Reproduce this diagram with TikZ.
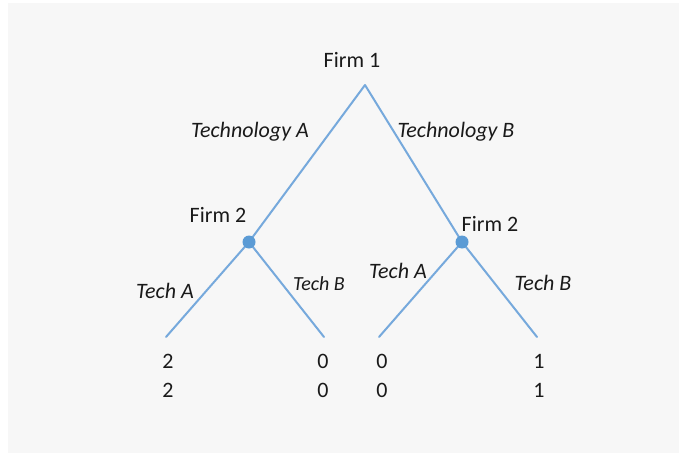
\documentclass[tikz,border=0pt]{standalone}
\usepackage{fontspec}
\setmainfont{Carlito}
\definecolor{panel}{HTML}{F7F7F7}
\definecolor{branchblue}{HTML}{76A9DC}
\definecolor{dotblue}{HTML}{5B9BD5}
\definecolor{ink}{HTML}{1A1A1A}
\pgfdeclarelayer{bg}
\pgfsetlayers{bg,main}
\begin{document}
\begin{tikzpicture}[x=1pt,y=-1pt,
  lbl/.style={inner sep=0pt,anchor=base,text=ink,font=\fontsize{22}{26}\selectfont},
  itl/.style={lbl,font=\fontsize{22}{26}\selectfont\itshape},
  itlsmall/.style={lbl,font=\fontsize{20}{24}\selectfont\itshape},
  branch/.style={draw=branchblue,line width=2pt,line join=round,line cap=round},
  decision/.style={circle,fill=dotblue,inner sep=0pt,minimum size=13pt}]
\useasboundingbox (0,0) rectangle (679,460);
\begin{pgfonlayer}{bg}
\fill[white] (0,0) rectangle (679,460);
\fill[panel] (8,3) rectangle (679,453);
\end{pgfonlayer}
% tree nodes
\coordinate (root) at (365,85);
\node[decision] (n2L) at (249,242) {};
\node[decision] (n2R) at (462,242) {};
\coordinate (leafLA) at (166,337);
\coordinate (leafLB) at (324,337);
\coordinate (leafRA) at (379,337);
\coordinate (leafRB) at (537,337);
% branches (behind the decision dots)
\begin{pgfonlayer}{bg}
\draw[branch] (n2L.center) -- (root) -- (n2R.center);
\draw[branch] (leafLA) -- (n2L.center) -- (leafLB);
\draw[branch] (leafRA) -- (n2R.center) -- (leafRB);
\end{pgfonlayer}
% player labels
\node[lbl] (f1) at (352,67) {Firm 1};
\node[lbl] (f2L) at (218,222) {Firm 2};
\node[lbl] (f2R) at (490,231) {Firm 2};
% action labels
\node[itl] (tA) at (250,137) {Technology A};
\node[itl] (tB) at (456,137) {Technology B};
\node[itl] (lA) at (165,298) {Tech A};
\node[itlsmall] (lB) at (319,290) {Tech B};
\node[itl] (rA) at (398,278) {Tech A};
\node[itl] (rB) at (543,290) {Tech B};
% payoffs
\node[lbl] (p1a) at (168,368) {2};
\node[lbl] (p1b) at (168,397) {2};
\node[lbl] (p2a) at (323,368) {0};
\node[lbl] (p2b) at (323,397) {0};
\node[lbl] (p3a) at (382,368) {0};
\node[lbl] (p3b) at (382,397) {0};
\node[lbl] (p4a) at (539,368) {1};
\node[lbl] (p4b) at (539,397) {1};
\end{tikzpicture}
\end{document}
